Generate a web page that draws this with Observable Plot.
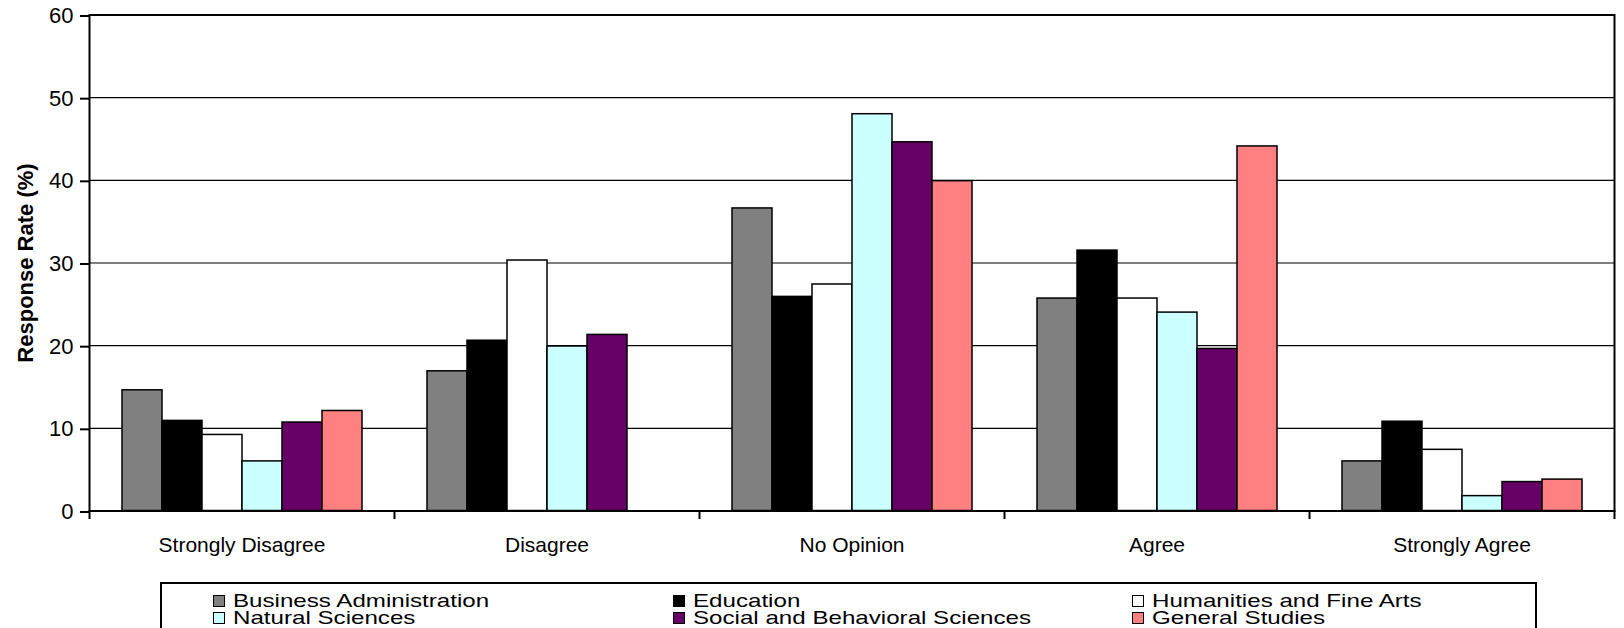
<!DOCTYPE html>
<html>
<head>
<meta charset="utf-8">
<script src="https://cdn.jsdelivr.net/npm/d3@7"></script>
<script src="https://cdn.jsdelivr.net/npm/@observablehq/plot@0.6"></script>
<style>
  html, body { margin: 0; padding: 0; background: #fff; overflow: hidden; }
  body { font-family: Arial, "Liberation Sans", sans-serif; }
  [aria-label="y-axis label"] text, [aria-label="y-axis label"] { font-weight: bold; }
  #legend { position: relative; width: 1624px; height: 52px; }
  #legend .box { position: absolute; left: 160px; top: 6px; width: 1377px; height: 70px; border: 2px solid #000; box-sizing: border-box; }
  #legend .sym { position: absolute; width: 12px; height: 12px; border: 1.5px solid #000; box-sizing: border-box; }
  #legend .lab { position: absolute; font-size: 19px; line-height: 17px; height: 17px; white-space: nowrap; transform: scaleX(1.27); transform-origin: 0 0; color: #000; }
</style>
</head>
<body>
<div id="chart"></div>
<div id="legend"><div class="box"></div></div>
<script>
const categories = ["Strongly Disagree", "Disagree", "No Opinion", "Agree", "Strongly Agree"];
const series = ["Business Administration", "Education", "Humanities and Fine Arts", "Natural Sciences", "Social and Behavioral Sciences", "General Studies"];
const colors = ["#808080", "#000000", "#ffffff", "#ccffff", "#660066", "#ff8080"];
const businessAdministration = [14.6, 16.9, 36.6, 25.7, 6.0];
const education = [10.9, 20.6, 25.9, 31.5, 10.8];
const humanitiesFineArts = [9.2, 30.3, 27.4, 25.7, 7.4];
const naturalSciences = [6.0, 19.9, 48.0, 24.0, 1.8];
const socialBehavioral = [10.7, 21.3, 44.6, 19.6, 3.5];
const generalStudies = [12.1, null, 39.9, 44.1, 3.8];
const yTicks = [0, 10, 20, 30, 40, 50, 60];

const valueLists = [businessAdministration, education, humanitiesFineArts, naturalSciences, socialBehavioral, generalStudies];
const data = [];
series.forEach((s, i) => {
  valueLists[i].forEach((v, j) => {
    if (v != null) data.push({category: categories[j], series: s, value: v});
  });
});

const W = 1624, H = 576, mTop = 14.5, mBottom = 65.5, mLeft = 87, mRight = 7.5;
const frameH = H - mTop - mBottom;

const chart = Plot.plot({
  width: W,
  height: H,
  marginTop: mTop,
  marginBottom: mBottom,
  marginLeft: mLeft,
  marginRight: mRight,
  style: {fontFamily: "Arial, 'Liberation Sans', sans-serif", color: "#000", background: "#fff"},
  fx: {domain: categories, padding: 0},
  x: {type: "band", domain: series, paddingInner: 0, paddingOuter: 0.75, axis: null},
  y: {domain: [0, 60]},
  color: {domain: series, range: colors},
  marks: [
    Plot.ruleY([10, 20, 30, 40, 50], {stroke: "#000", strokeWidth: 1.2}),
    Plot.barY(data, {fx: "category", x: "series", y: "value", fill: "series", stroke: "#000", strokeWidth: 1.5}),
    Plot.frame({facet: "super", stroke: "#000", strokeWidth: 2}),
    Plot.frame({anchor: "left", stroke: "#000", strokeWidth: 2, insetTop: frameH, insetBottom: -7}),
    Plot.frame({facet: "super", anchor: "right", stroke: "#000", strokeWidth: 2, insetTop: frameH, insetBottom: -7}),
    Plot.axisY(yTicks, {tickSize: 9, tickPadding: 7, fontSize: 22, strokeWidth: 2, dy: 1,
      label: "Response Rate (%)", labelArrow: "none", labelAnchor: "center", labelOffset: 72}),
    Plot.axisFx({anchor: "bottom", tickSize: 0, tickPadding: 26.5, fontSize: 21, label: null})
  ]
});
document.getElementById("chart").appendChild(chart);

// Legend
const legend = document.getElementById("legend");
const colX = [213, 672.5, 1132];
const symTop = [19, 36];
const labTop = [15.9, 32.9];
series.forEach((s, i) => {
  const col = i % 3, row = Math.floor(i / 3);
  const sym = document.createElement("div");
  sym.className = "sym";
  sym.style.left = colX[col] + "px";
  sym.style.top = symTop[row] + "px";
  sym.style.background = colors[i];
  legend.appendChild(sym);
  const lab = document.createElement("div");
  lab.className = "lab";
  lab.style.left = (colX[col] + 20) + "px";
  lab.style.top = labTop[row] + "px";
  lab.textContent = s;
  legend.appendChild(lab);
});
</script>
</body>
</html>
